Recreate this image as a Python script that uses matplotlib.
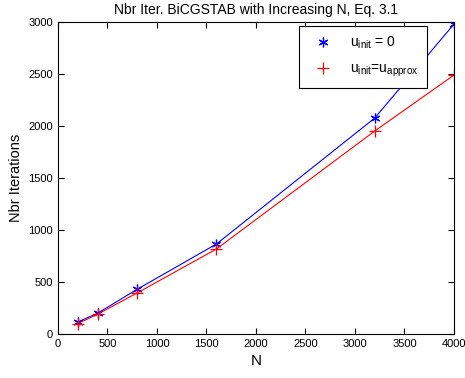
import matplotlib
matplotlib.use('Agg')
import matplotlib.pyplot as plt

plt.rcParams['font.family'] = ['Liberation Sans', 'DejaVu Sans']
plt.rcParams['mathtext.default'] = 'regular'

N = [200, 400, 800, 1600, 3200, 4000]
iters_zero = [115, 200, 430, 865, 2077, 2980]
iters_approx = [100, 190, 395, 817, 1952, 2490]

fig = plt.figure(figsize=(4.65, 3.78), dpi=100)
ax = fig.add_axes([0.1247, 0.1164, 0.8516, 0.8254])

ax.plot(N, iters_zero, '-', color='blue', lw=0.8, marker=(6, 2, 0), ms=7, mew=0.9,
        label='u$_{init}$ = 0')
ax.plot(N, iters_approx, '-', color='red', lw=0.8, marker='+', ms=8, mew=0.9,
        label='u$_{init}$=u$_{approx}$')

ax.set_xlim(0, 4000)
ax.set_ylim(0, 3000)
ax.set_xticks(range(0, 4001, 500))
ax.set_yticks(range(0, 3001, 500))
ax.tick_params(direction='in', top=True, right=True, labelsize=8, length=4)
ax.set_xlabel('N', fontsize=11)
ax.set_ylabel('Nbr Iterations', fontsize=10.5)
ax.set_title('Nbr Iter. BiCGSTAB with Increasing N, Eq. 3.1', fontsize=10)

leg = ax.legend(loc='upper right', bbox_to_anchor=(0.932, 0.987), borderaxespad=0,
                fontsize=10, fancybox=False, edgecolor='black', framealpha=1,
                handlelength=2.2, handletextpad=0.9, borderpad=0.6,
                labelspacing=0.8)
leg.get_frame().set_linewidth(0.8)
for h in leg.get_lines():
    h.set_linestyle('')

fig.savefig('out.png', dpi=100)
